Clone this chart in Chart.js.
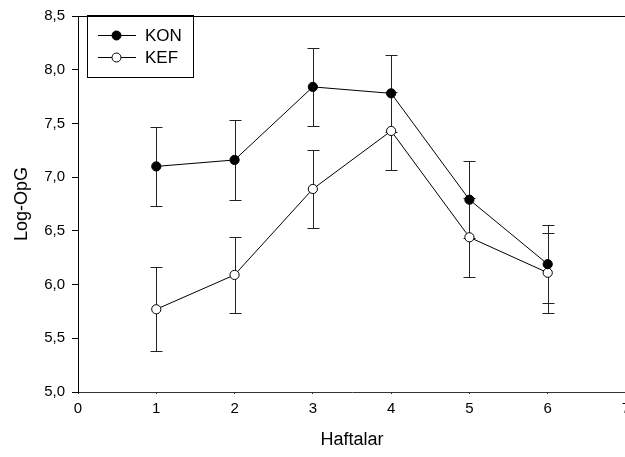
<!DOCTYPE html>
<html>
<head>
<meta charset="utf-8">
<script src="https://cdn.jsdelivr.net/npm/chart.js@4/dist/chart.umd.min.js"></script>
<style>
html, body { margin: 0; padding: 0; background: #fff; overflow: hidden; }
#wrap { width: 625px; height: 457px; overflow: hidden; position: relative; }
canvas { position: absolute; left: 0; top: 0; }
</style>
</head>
<body>
<div id="wrap"><canvas id="chart" width="660" height="457"></canvas></div>
<script>
// values
const weeks = [1, 2, 3, 4, 5, 6];
const konMean = [7.10, 7.16, 7.84, 7.78, 6.79, 6.19];
const konErr = [0.37, 0.37, 0.36, 0.36, 0.36, 0.36];
const kefMean = [5.77, 6.09, 6.89, 7.43, 6.44, 6.11];
const kefErr = [0.39, 0.35, 0.36, 0.36, 0.37, 0.37];
const seriesNames = ['KON', 'KEF'];
const xTitle = 'Haftalar';
const yTitle = 'Log-OpG';

const FONT = 'Liberation Sans, Arial, Helvetica, sans-serif';

const toPoints = arr => weeks.map((w, i) => ({ x: w, y: arr[i] }));

// error bars drawn under the lines/points
const errorBars = {
  id: 'errorBars',
  beforeDatasetsDraw(chart) {
    const ctx = chart.ctx;
    const yScale = chart.scales.y;
    ctx.save();
    ctx.strokeStyle = '#222';
    ctx.lineWidth = 1;
    chart.data.datasets.forEach((ds, di) => {
      const meta = chart.getDatasetMeta(di);
      meta.data.forEach((pt, i) => {
        const v = ds.data[i].y, e = ds.errors[i];
        const x = Math.round(pt.x) + 0.5;
        const yTop = Math.round(yScale.getPixelForValue(v + e)) + 0.5;
        const yBot = Math.round(yScale.getPixelForValue(v - e)) + 0.5;
        ctx.beginPath();
        ctx.moveTo(x, yTop); ctx.lineTo(x, yBot);
        ctx.moveTo(x - 6, yTop); ctx.lineTo(x + 6, yTop);
        ctx.moveTo(x - 6, yBot); ctx.lineTo(x + 6, yBot);
        ctx.stroke();
      });
    });
    ctx.restore();
  }
};

// top frame line
const frame = {
  id: 'frame',
  afterDraw(chart) {
    const { ctx, chartArea } = chart;
    ctx.save();
    ctx.strokeStyle = '#000';
    ctx.lineWidth = 1;
    ctx.beginPath();
    ctx.moveTo(chartArea.left, Math.round(chartArea.top) + 0.5);
    ctx.lineTo(chartArea.right, Math.round(chartArea.top) + 0.5);
    ctx.stroke();
    ctx.restore();
  }
};

// boxed legend with line + marker samples
const boxLegend = {
  id: 'boxLegend',
  afterDraw(chart) {
    const ctx = chart.ctx;
    ctx.save();
    ctx.strokeStyle = '#000';
    ctx.lineWidth = 1;
    ctx.strokeRect(87.5, 15.5, 106, 62);
    ctx.font = '17px ' + FONT;
    ctx.textBaseline = 'middle';
    ctx.fillStyle = '#000';
    chart.data.datasets.forEach((ds, i) => {
      const y = 35.5 + i * 22;
      ctx.beginPath();
      ctx.moveTo(98, y); ctx.lineTo(136, y);
      ctx.stroke();
      ctx.beginPath();
      ctx.arc(116.5, y, 4.5, 0, Math.PI * 2);
      ctx.fillStyle = ds.pointBackgroundColor;
      ctx.fill();
      ctx.stroke();
      ctx.fillStyle = '#000';
      ctx.fillText(ds.label, 145, y + 1);
    });
    ctx.restore();
  }
};

const tickFont = { family: FONT, size: 15 };
const titleFont = { family: FONT, size: 18 };

new Chart(document.getElementById('chart'), {
  type: 'line',
  data: {
    datasets: [
      { label: seriesNames[0], data: toPoints(konMean), errors: konErr,
        borderColor: '#000', borderWidth: 1, pointRadius: 4.6, pointBorderWidth: 1,
        pointBackgroundColor: '#000', pointBorderColor: '#000', tension: 0 },
      { label: seriesNames[1], data: toPoints(kefMean), errors: kefErr,
        borderColor: '#000', borderWidth: 1, pointRadius: 4.6, pointBorderWidth: 1,
        pointBackgroundColor: '#fff', pointBorderColor: '#000', tension: 0 }
    ]
  },
  options: {
    responsive: false,
    animation: false,
    devicePixelRatio: 1,
    layout: { padding: { top: 7, right: 34, left: 0, bottom: 0 } },
    plugins: { legend: { display: false }, tooltip: { enabled: false } },
    scales: {
      x: {
        type: 'linear', min: 0, max: 7,
        afterFit: s => { s.height = 65; },
        ticks: { stepSize: 1, font: tickFont, color: '#000', padding: 6, maxRotation: 0 },
        grid: { drawOnChartArea: false, drawTicks: true, tickLength: 2, color: '#333' },
        border: { display: true, color: '#333', width: 1 },
        title: { display: true, text: xTitle, font: titleFont, color: '#000', padding: { top: 0, bottom: 6 } }
      },
      y: {
        min: 5, max: 8.5,
        afterFit: s => { s.width = 78; },
        ticks: { stepSize: 0.5, font: tickFont, color: '#000', padding: 7,
          callback: v => v.toFixed(1).replace('.', ',') },
        grid: { drawOnChartArea: false, drawTicks: true, tickLength: 6, color: '#000' },
        border: { display: true, color: '#000', width: 1 },
        title: { display: true, text: yTitle, font: titleFont, color: '#000', padding: { top: 11, bottom: 0 } }
      }
    }
  },
  plugins: [errorBars, frame, boxLegend]
});
</script>
</body>
</html>
